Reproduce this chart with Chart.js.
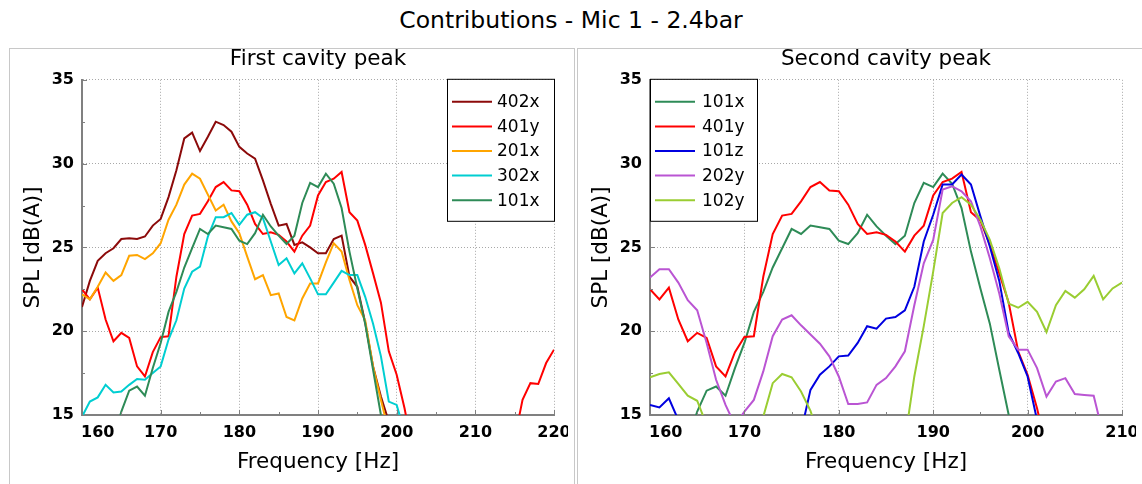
<!DOCTYPE html>
<html>
<head>
<meta charset="utf-8">
<script src="https://cdn.jsdelivr.net/npm/chart.js@4.4.1/dist/chart.umd.min.js"></script>
<style>
  html, body { margin: 0; padding: 0; background: #fff; }
  body { width: 1142px; height: 484px; position: relative; overflow: hidden; font-family: 'DejaVu Sans', sans-serif; }
  #mainTitle { position: absolute; left: 0; top: 6px; width: 1142px; text-align: center; font-size: 23.5px; line-height: 28px; color: #000; }
  .panel { position: absolute; top: 48px; height: 460px; border: 1px solid #c8c8c8; }
  .plot { position: absolute; top: 0; width: 568px; height: 484px; }
</style>
</head>
<body>
<div id="mainTitle">Contributions - Mic 1 - 2.4bar</div>
<div class="panel" style="left:9px; width:564px;"></div>
<div class="panel" style="left:577px; width:570px;"></div>
<div class="plot" style="left:0"><canvas id="firstPeakChart"></canvas></div>
<div class="plot" style="left:568px"><canvas id="secondPeakChart"></canvas></div>
<script>
// Frequency bins [Hz]
var freqs = [160, 161, 162, 163, 164, 165, 166, 167, 168, 169,
             170, 171, 172, 173, 174, 175, 176, 177, 178, 179,
             180, 181, 182, 183, 184, 185, 186, 187, 188, 189,
             190, 191, 192, 193, 194, 195, 196, 197, 198, 199,
             200, 201, 202, 203, 204, 205, 206, 207, 208, 209,
             210, 211, 212, 213, 214, 215, 216, 217, 218, 219, 220];

// SPL [dB(A)] per contribution, one value per frequency bin (null = off the plot)
var spl402x = [21.45, 23.0, 24.2, 24.65, 24.95, 25.5, 25.55, 25.5, 25.65, 26.3,
               26.7, 28.0, 29.6, 31.5, 31.85, 30.75, 31.6, 32.5, 32.3, 31.9,
               31.0, 30.6, 30.3, 29.0, 27.6, 26.3, 26.4, 25.15, 25.3, 25.0,
               24.65, 24.65, 25.5, 25.7, 23.25, 22.65, 20.5, 17.9, 16.1, 14.6,
               13, null, null, null, null, null, null, null, null, null,
               null, null, null, null, null, null, null, null, null, null, null];
var spl401y = [22.5, 21.9, 22.6, 20.7, 19.4, 19.9, 19.6, 17.9, 17.3, 18.75,
               19.65, 19.7, 23.25, 25.8, 26.9, 27.0, 27.75, 28.6, 28.9, 28.4,
               28.35, 27.55, 26.4, 25.8, 25.9, 25.75, 25.35, 24.75, 25.7, 26.3,
               28.1, 28.9, 29.1, 29.5, 27.1, 26.6, 25.15, 23.45, 21.7, 18.8,
               17.4, 15.4, 13, null, null, null, null, null, null, null,
               null, null, null, null, null, 13.6, 15.9, 16.9, 16.85, 18.1, 18.9];
var spl201x = [22.2, 21.9, 22.65, 23.5, 23.0, 23.35, 24.5, 24.55, 24.3, 24.65,
               25.25, 26.65, 27.55, 28.75, 29.4, 29.1, 28.15, 27.2, 27.55, 26.55,
               25.85, 24.45, 23.1, 23.35, 22.15, 22.25, 20.85, 20.65, 21.95, 22.85,
               22.85, 24.1, 25.25, 24.75, 23.05, 21.55, 20.65, 17.9, 15.9, 14,
               null, null, null, null, null, null, null, null, null, null,
               null, null, null, null, null, null, null, null, null, null, null];
var spl302x = [14.9, 15.8, 16.05, 16.8, 16.35, 16.4, 16.8, 17.15, 17.1, 17.5,
               17.9, 19.5, 20.65, 22.55, 23.55, 23.85, 25.65, 26.8, 26.8, 27.05,
               26.35, 26.95, 27.1, 26.75, 25.35, 23.95, 24.35, 23.45, 24.05, 23.15,
               22.2, 22.2, 22.9, 23.6, 23.35, 23.35, 22.05, 20.45, 18.5, 15.8,
               15.6, 14, null, null, null, null, null, null, null, null,
               null, null, null, null, null, null, null, null, null, null, null];
var spl101x = [null, null, null, null, 13.5, 15.2, 16.45, 16.7, 16.15, 17.8,
               19.3, 21.15, 22.35, 23.8, 24.95, 26.1, 25.8, 26.3, 26.2, 26.1,
               25.4, 25.2, 25.85, 26.95, 26.25, 25.7, 25.2, 25.7, 27.65, 28.85,
               28.6, 29.4, 28.8, 27.35, 24.75, 22.55, 20.45, 17.7, 15.0, 13,
               null, null, null, null, null, null, null, null, null, null,
               null, null, null, null, null, null, null, null, null, null, null];
var spl101z = [15.6, 15.45, 16.0, 14.7, null, null, null, null, null, null,
               null, null, null, null, null, null, 14.0, 16.5, 17.4, 17.9,
               18.5, 18.55, 19.3, 20.3, 20.15, 20.75, 20.85, 21.25, 22.65, 25.35,
               26.95, 28.75, 28.75, 29.35, 28.75, 26.85, 25.05, 23.0, 19.9, 18.7,
               17.3, 14.7, null, null, null, null, null, null, null, null, null];
var spl202y = [23.2, 23.7, 23.7, 22.9, 21.85, 21.25, 19.3, 17.1, 15.6, 14.4,
               15.2, 15.9, 17.6, 19.7, 20.7, 20.95, 20.35, 19.8, 19.25, 18.5,
               17.3, 15.65, 15.65, 15.75, 16.8, 17.2, 17.9, 18.8, 21.55, 24.05,
               25.45, 28.45, 28.65, 28.35, 27.75, 26.25, 24.35, 22.25, 19.7, 18.9,
               18.9, 17.8, 16.1, 17.0, 17.2, 16.25, 16.2, 16.15, 13.85, null, null];
var spl102y = [17.25, 17.45, 17.55, 16.85, 16.15, 15.85, 14.4, null, null, null,
               null, null, 14.9, 16.9, 17.45, 17.25, 16.4, 15.25, 13.5, null,
               null, null, null, null, null, null, null, 13.5, 17.3, 20.3,
               23.55, 27.05, 27.65, 28.0, 27.55, 26.65, 25.45, 23.75, 21.65, 21.4,
               21.75, 21.15, 19.95, 21.55, 22.4, 22.0, 22.5, 23.3, 21.9, 22.55, 22.9];

var firstNames = ['402x', '401y', '201x', '302x', '101x'];
var firstColors = ['#8c0a0a', '#ff0000', '#ffa500', '#00ced1', '#2e8b57'];
var secondNames = ['101x', '401y', '101z', '202y', '102y'];
var secondColors = ['#2e8b57', '#ff0000', '#0000e0', '#ba55d3', '#9acd32'];

var FONT = "'DejaVu Sans', sans-serif";
Chart.defaults.font.family = FONT;
Chart.defaults.color = '#000';

// MATLAB style legend box drawn inside the axes
var boxLegend = {
    id: 'boxLegend',
    afterDatasetsDraw: function (chart, args, opts) {
        var ctx = chart.ctx;
        var area = chart.chartArea;
        var sets = chart.data.datasets;
        var w = opts.width;
        var h = 142;
        var left = opts.side === 'right' ? area.right - w : area.left;
        var top = area.top;
        ctx.save();
        ctx.fillStyle = '#fff';
        ctx.fillRect(left, top, w, h);
        ctx.strokeStyle = '#000';
        ctx.lineWidth = 1;
        ctx.strokeRect(left + 0.5, top - 0.5, w, h);
        ctx.font = '17px ' + FONT;
        ctx.textBaseline = 'middle';
        ctx.textAlign = 'left';
        sets.forEach(function (ds, i) {
            var yy = top + 22 + i * 24.6;
            ctx.strokeStyle = ds.borderColor;
            ctx.lineWidth = 2;
            ctx.beginPath();
            ctx.moveTo(left + 5, yy);
            ctx.lineTo(left + 45, yy);
            ctx.stroke();
            ctx.fillStyle = '#000';
            ctx.fillText(ds.label, left + opts.textOffset, yy + 1);
        });
        ctx.restore();
    }
};

// short inward tick marks, major and minor
var innerTicks = {
    id: 'innerTicks',
    afterDatasetsDraw: function (chart) {
        var ctx = chart.ctx;
        var area = chart.chartArea;
        var sx = chart.scales.x, sy = chart.scales.y;
        ctx.save();
        ctx.strokeStyle = '#808080';
        ctx.lineWidth = 1;
        ctx.beginPath();
        for (var f = sx.min; f <= sx.max; f += 5) {
            var px = Math.round(sx.getPixelForValue(f)) + 0.5;
            var len = (f % 10 === 0) ? 5 : 3;
            ctx.moveTo(px, area.bottom);
            ctx.lineTo(px, area.bottom - len);
        }
        for (var v = sy.min; v <= sy.max; v += 2.5) {
            var py = Math.round(sy.getPixelForValue(v)) + 0.5;
            var l2 = (v % 5 === 0) ? 5 : 3;
            ctx.moveTo(area.left, py);
            ctx.lineTo(area.left + l2, py);
        }
        ctx.stroke();
        ctx.restore();
    }
};

// x tick labels, first one kept inside the axes like in the figure
var xTickLabels = {
    id: 'xTickLabels',
    afterDraw: function (chart) {
        var ctx = chart.ctx;
        var area = chart.chartArea;
        var sx = chart.scales.x;
        ctx.save();
        ctx.font = 'bold 16px ' + FONT;
        ctx.fillStyle = '#000';
        ctx.textAlign = 'center';
        ctx.textBaseline = 'alphabetic';
        sx.ticks.forEach(function (t) {
            var label = String(t.value);
            var half = ctx.measureText(label).width / 2;
            var px = Math.max(sx.getPixelForValue(t.value), area.left + half - 1);
            ctx.fillText(label, px, area.bottom + 22);
        });
        ctx.restore();
    }
};

function toPoints(vals) {
    return vals.map(function (v, k) { return {x: freqs[k], y: v}; });
}

function createCavityChart(canvasId, title, xMax, names, colors, series, legendSide, textOffset) {
    var ctx = document.getElementById(canvasId).getContext('2d');
    var gridStyle = { color: '#a8a8a8', lineWidth: 1, drawTicks: false };
    var borderStyle = { display: true, color: '#808080', width: 2, dash: [1, 2] };
    return new Chart(ctx, {
        type: 'line',
        data: {
            datasets: series.map(function (vals, i) {
                return {
                    label: names[i],
                    data: toPoints(vals),
                    borderColor: colors[i],
                    backgroundColor: colors[i],
                    borderWidth: 2,
                    pointRadius: 0,
                    tension: 0,
                    fill: false,
                    clip: 0,
                    order: series.length - i
                };
            })
        },
        options: {
            responsive: true,
            maintainAspectRatio: false,
            animation: false,
            layout: { padding: { left: 10, right: 14, top: 0, bottom: 0 } },
            scales: {
                x: {
                    type: 'linear',
                    min: 160,
                    max: xMax,
                    ticks: { stepSize: 10, display: false },
                    grid: gridStyle,
                    border: borderStyle,
                    title: { display: true, text: 'Frequency [Hz]', font: { size: 21.5 }, padding: { top: 0, bottom: 8.5 } },
                    afterFit: function (scale) { scale.height = 69; }
                },
                y: {
                    min: 15,
                    max: 35,
                    ticks: { stepSize: 5, font: { size: 16, weight: 'bold' }, padding: 8 },
                    grid: gridStyle,
                    border: borderStyle,
                    title: { display: true, text: 'SPL [dB(A)]', font: { size: 21.5 }, padding: { top: 10.4, bottom: 0 } },
                    afterFit: function (scale) { scale.width = 72; }
                }
            },
            plugins: {
                legend: { display: false },
                tooltip: { enabled: false },
                title: {
                    display: true,
                    text: title,
                    fullSize: false,
                    color: '#000',
                    font: { size: 21.5, weight: 'normal' },
                    padding: { top: 47, bottom: 7 }
                },
                boxLegend: { side: legendSide, width: 107, textOffset: textOffset }
            }
        },
        plugins: [innerTicks, boxLegend, xTickLabels]
    });
}

createCavityChart('firstPeakChart', 'First cavity peak', 220, firstNames, firstColors,
    [spl402x, spl401y, spl201x, spl302x, spl101x], 'right', 50);

createCavityChart('secondPeakChart', 'Second cavity peak', 210, secondNames, secondColors,
    [spl101x.slice(0, 51), spl401y.slice(0, 51), spl101z, spl202y, spl102y], 'left', 52);
</script>
</body>
</html>
